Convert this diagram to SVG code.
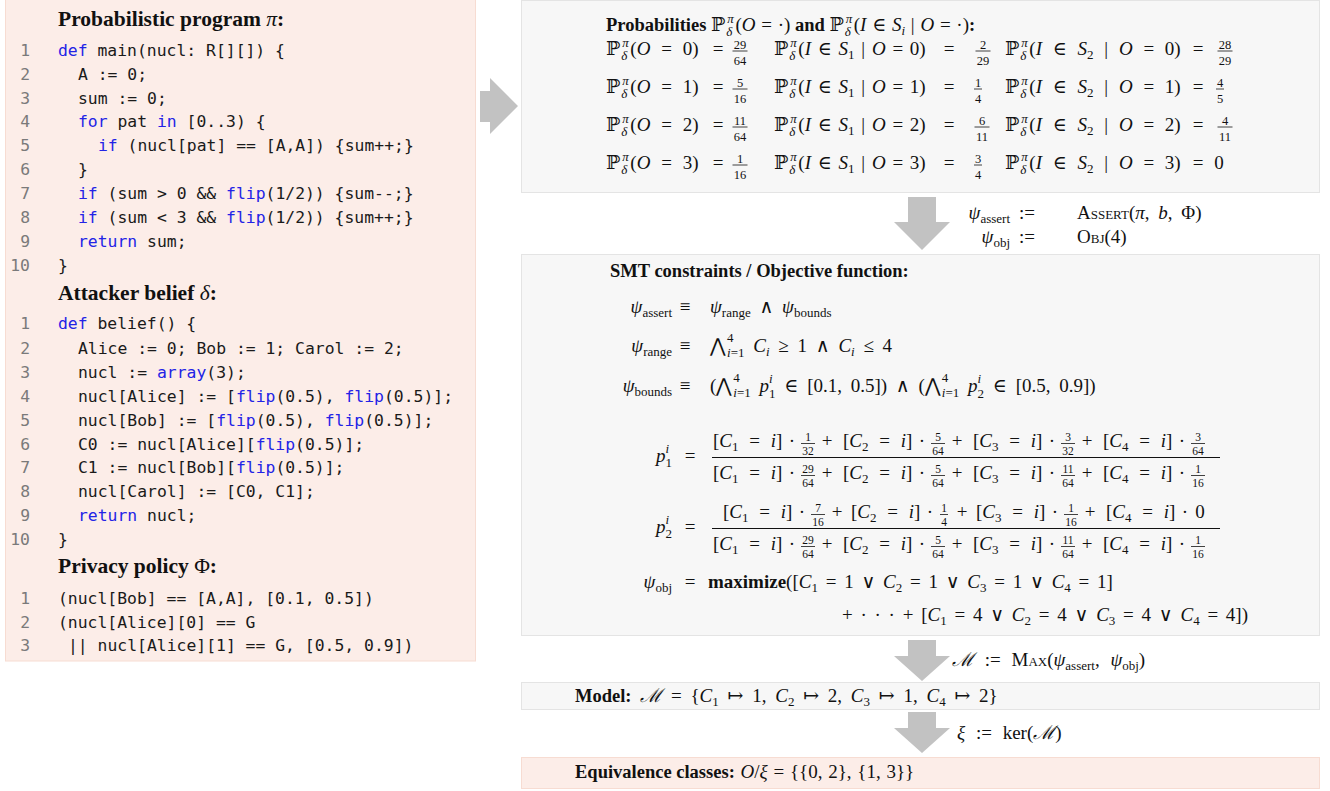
<svg xmlns="http://www.w3.org/2000/svg" width="1330" height="791" viewBox="0 0 1330 791">
<style>
.code{font-family:"DejaVu Sans Mono",monospace;font-size:16.4px;fill:#1a1a1a}
.kw{fill:#2323e6}
.ln{font-family:"DejaVu Sans Mono",monospace;font-size:16.4px;fill:#7a7a7a;text-anchor:end}
.hl{font-family:"Liberation Serif","DejaVu Serif",serif;font-size:21.5px;font-weight:bold;fill:#111}
.m{font-family:"Liberation Serif","DejaVu Serif",serif;font-size:19px;fill:#111;word-spacing:4px}
.w0{word-spacing:0}
.w1{word-spacing:1px}
.w2{word-spacing:2px}
.w3{word-spacing:3px}
.w6{word-spacing:6px}
.b{font-weight:bold}
.hb{font-weight:bold;font-size:18.5px}
.n{font-weight:normal}
.it{font-style:italic}
.sb{font-size:13px}
.sc{font-variant:small-caps}
.fr{font-family:"Liberation Serif","DejaVu Serif",serif;font-size:12.5px;fill:#111;text-anchor:middle}
.fs{font-family:"Liberation Serif","DejaVu Serif",serif;font-size:11.5px;fill:#111;text-anchor:middle}
.fl{stroke:#111;stroke-width:0.8}
.flb{stroke:#111;stroke-width:1}
.mid{text-anchor:middle}
.end{text-anchor:end}
.pink{fill:#fcede8;stroke:#f7dcd2;stroke-width:1}
.gray{fill:#f7f7f7;stroke:#e4e4e4;stroke-width:1}
.arr{fill:#c2c2c2}
</style>

<g id="connectors">
<path class="arr" d="M480,91 H490 V78 L518,106 L490,134 V122 H480 Z"/>
<path class="arr" d="M908,197 H936 V222 H950 L922,250 L894,222 H908 Z"/>
<path class="arr" d="M908,640 H936 V656 H950 L922,681 L894,656 H908 Z"/>
<path class="arr" d="M908,712 H936 V728 H950 L922,753 L894,728 H908 Z"/>
</g>

<g id="left-panel">
<rect class="pink" x="5.5" y="-1" width="470" height="662"/>
<text class="hl" x="58" y="25.5">Probabilistic program <tspan class="n it">π</tspan>:</text>
<text class="ln" x="30" y="55.5">1</text>
<text class="ln" x="30" y="79.5">2</text>
<text class="ln" x="30" y="103.5">3</text>
<text class="ln" x="30" y="127">4</text>
<text class="ln" x="30" y="151">5</text>
<text class="ln" x="30" y="175">6</text>
<text class="ln" x="30" y="198.5">7</text>
<text class="ln" x="30" y="222.5">8</text>
<text class="ln" x="30" y="246.5">9</text>
<text class="ln" x="30" y="270.5">10</text>
<text class="code" x="58" y="55.5"><tspan class="kw">def</tspan> main(nucl: R[][]) {</text>
<text class="code" x="78" y="79.5">A := 0;</text>
<text class="code" x="78" y="103.5">sum := 0;</text>
<text class="code" x="78" y="127"><tspan class="kw">for</tspan> pat <tspan class="kw">in</tspan> [0..3) {</text>
<text class="code" x="98" y="151"><tspan class="kw">if</tspan> (nucl[pat] == [A,A]) {sum++;}</text>
<text class="code" x="78" y="175">}</text>
<text class="code" x="78" y="198.5"><tspan class="kw">if</tspan> (sum &gt; 0 &amp;&amp; <tspan class="kw">flip</tspan>(1/2)) {sum--;}</text>
<text class="code" x="78" y="222.5"><tspan class="kw">if</tspan> (sum &lt; 3 &amp;&amp; <tspan class="kw">flip</tspan>(1/2)) {sum++;}</text>
<text class="code" x="78" y="246.5"><tspan class="kw">return</tspan> sum;</text>
<text class="code" x="58" y="270.5">}</text>

<text class="hl" x="58" y="300">Attacker belief <tspan class="n it">δ</tspan>:</text>
<text class="ln" x="30" y="329">1</text>
<text class="ln" x="30" y="353.5">2</text>
<text class="ln" x="30" y="377.5">3</text>
<text class="ln" x="30" y="401.5">4</text>
<text class="ln" x="30" y="425.5">5</text>
<text class="ln" x="30" y="449.5">6</text>
<text class="ln" x="30" y="473">7</text>
<text class="ln" x="30" y="497">8</text>
<text class="ln" x="30" y="520.5">9</text>
<text class="ln" x="30" y="545">10</text>
<text class="code" x="58" y="329"><tspan class="kw">def</tspan> belief() {</text>
<text class="code" x="78" y="353.5">Alice := 0; Bob := 1; Carol := 2;</text>
<text class="code" x="78" y="377.5">nucl := <tspan class="kw">array</tspan>(3);</text>
<text class="code" x="78" y="401.5">nucl[Alice] := [<tspan class="kw">flip</tspan>(0.5), <tspan class="kw">flip</tspan>(0.5)];</text>
<text class="code" x="78" y="425.5">nucl[Bob] := [<tspan class="kw">flip</tspan>(0.5), <tspan class="kw">flip</tspan>(0.5)];</text>
<text class="code" x="78" y="449.5">C0 := nucl[Alice][<tspan class="kw">flip</tspan>(0.5)];</text>
<text class="code" x="78" y="473">C1 := nucl[Bob][<tspan class="kw">flip</tspan>(0.5)];</text>
<text class="code" x="78" y="497">nucl[Carol] := [C0, C1];</text>
<text class="code" x="78" y="520.5"><tspan class="kw">return</tspan> nucl;</text>
<text class="code" x="58" y="545">}</text>

<text class="hl" x="58" y="573">Privacy policy <tspan class="n">Φ</tspan>:</text>
<text class="ln" x="30" y="604">1</text>
<text class="ln" x="30" y="627.5">2</text>
<text class="ln" x="30" y="650.5">3</text>
<text class="code" x="58" y="604">(nucl[Bob] == [A,A], [0.1, 0.5])</text>
<text class="code" x="58" y="627.5">(nucl[Alice][0] == G</text>
<text class="code" x="68" y="650.5">|| nucl[Alice][1] == G, [0.5, 0.9])</text>
</g>

<g id="probabilities">
<rect class="gray" x="521.5" y="0.5" width="798" height="192"/>
<text class="m w1" x="606" y="31"><tspan class="hb w0">Probabilities </tspan>ℙ<tspan class="sb it" dx="2" dy="-8">π</tspan><tspan class="sb it" dx="-7.5" dy="13">δ</tspan><tspan dx="3" dy="-5">(<tspan class="it">O</tspan> = ·)</tspan><tspan class="hb w0"> and </tspan>ℙ<tspan class="sb it" dx="2" dy="-8">π</tspan><tspan class="sb it" dx="-7.5" dy="13">δ</tspan><tspan dx="3" dy="-5">(<tspan class="it">I</tspan> ∈ <tspan class="it">S</tspan></tspan><tspan class="sb it" dy="4">i</tspan><tspan dy="-4"> | <tspan class="it">O</tspan> = ·)</tspan><tspan class="hb">:</tspan></text>

<text class="m w6" x="606" y="55">ℙ<tspan class="sb it" dx="2" dy="-8">π</tspan><tspan class="sb it" dx="-7.5" dy="13">δ</tspan><tspan dx="3" dy="-5">(<tspan class="it">O</tspan> = 0)</tspan></text>
<text class="m w6" x="606" y="93">ℙ<tspan class="sb it" dx="2" dy="-8">π</tspan><tspan class="sb it" dx="-7.5" dy="13">δ</tspan><tspan dx="3" dy="-5">(<tspan class="it">O</tspan> = 1)</tspan></text>
<text class="m w6" x="606" y="131">ℙ<tspan class="sb it" dx="2" dy="-8">π</tspan><tspan class="sb it" dx="-7.5" dy="13">δ</tspan><tspan dx="3" dy="-5">(<tspan class="it">O</tspan> = 2)</tspan></text>
<text class="m w6" x="606" y="169">ℙ<tspan class="sb it" dx="2" dy="-8">π</tspan><tspan class="sb it" dx="-7.5" dy="13">δ</tspan><tspan dx="3" dy="-5">(<tspan class="it">O</tspan> = 3)</tspan></text>
<text class="m mid" x="718" y="55">=</text>
<text class="m mid" x="718" y="93">=</text>
<text class="m mid" x="718" y="131">=</text>
<text class="m mid" x="718" y="169">=</text>

<text class="m w2" x="774" y="55">ℙ<tspan class="sb it" dx="2" dy="-8">π</tspan><tspan class="sb it" dx="-7.5" dy="13">δ</tspan><tspan dx="3" dy="-5">(<tspan class="it">I</tspan> ∈ <tspan class="it">S</tspan></tspan><tspan class="sb" dy="4">1</tspan><tspan dy="-4"> | <tspan class="it">O</tspan> = 0)</tspan></text>
<text class="m w2" x="774" y="93">ℙ<tspan class="sb it" dx="2" dy="-8">π</tspan><tspan class="sb it" dx="-7.5" dy="13">δ</tspan><tspan dx="3" dy="-5">(<tspan class="it">I</tspan> ∈ <tspan class="it">S</tspan></tspan><tspan class="sb" dy="4">1</tspan><tspan dy="-4"> | <tspan class="it">O</tspan> = 1)</tspan></text>
<text class="m w2" x="774" y="131">ℙ<tspan class="sb it" dx="2" dy="-8">π</tspan><tspan class="sb it" dx="-7.5" dy="13">δ</tspan><tspan dx="3" dy="-5">(<tspan class="it">I</tspan> ∈ <tspan class="it">S</tspan></tspan><tspan class="sb" dy="4">1</tspan><tspan dy="-4"> | <tspan class="it">O</tspan> = 2)</tspan></text>
<text class="m w2" x="774" y="169">ℙ<tspan class="sb it" dx="2" dy="-8">π</tspan><tspan class="sb it" dx="-7.5" dy="13">δ</tspan><tspan dx="3" dy="-5">(<tspan class="it">I</tspan> ∈ <tspan class="it">S</tspan></tspan><tspan class="sb" dy="4">1</tspan><tspan dy="-4"> | <tspan class="it">O</tspan> = 3)</tspan></text>
<text class="m mid" x="949" y="55">=</text>
<text class="m mid" x="949" y="93">=</text>
<text class="m mid" x="949" y="131">=</text>
<text class="m mid" x="949" y="169">=</text>

<text class="m w6" x="1005" y="55">ℙ<tspan class="sb it" dx="2" dy="-8">π</tspan><tspan class="sb it" dx="-7.5" dy="13">δ</tspan><tspan dx="3" dy="-5">(<tspan class="it">I</tspan> ∈ <tspan class="it">S</tspan></tspan><tspan class="sb" dy="4">2</tspan><tspan dy="-4"> | <tspan class="it">O</tspan> = 0)</tspan></text>
<text class="m w6" x="1005" y="93">ℙ<tspan class="sb it" dx="2" dy="-8">π</tspan><tspan class="sb it" dx="-7.5" dy="13">δ</tspan><tspan dx="3" dy="-5">(<tspan class="it">I</tspan> ∈ <tspan class="it">S</tspan></tspan><tspan class="sb" dy="4">2</tspan><tspan dy="-4"> | <tspan class="it">O</tspan> = 1)</tspan></text>
<text class="m w6" x="1005" y="131">ℙ<tspan class="sb it" dx="2" dy="-8">π</tspan><tspan class="sb it" dx="-7.5" dy="13">δ</tspan><tspan dx="3" dy="-5">(<tspan class="it">I</tspan> ∈ <tspan class="it">S</tspan></tspan><tspan class="sb" dy="4">2</tspan><tspan dy="-4"> | <tspan class="it">O</tspan> = 2)</tspan></text>
<text class="m w6" x="1005" y="169">ℙ<tspan class="sb it" dx="2" dy="-8">π</tspan><tspan class="sb it" dx="-7.5" dy="13">δ</tspan><tspan dx="3" dy="-5">(<tspan class="it">I</tspan> ∈ <tspan class="it">S</tspan></tspan><tspan class="sb" dy="4">2</tspan><tspan dy="-4"> | <tspan class="it">O</tspan> = 3)</tspan></text>
<text class="m mid" x="1198" y="55">=</text>
<text class="m mid" x="1198" y="93">=</text>
<text class="m mid" x="1198" y="131">=</text>
<text class="m mid" x="1198" y="169">=</text>
<text class="m mid" x="1219" y="169">0</text>

<g>
<text class="fr" x="740" y="48.5">29</text><line class="fl" x1="732.5" y1="51" x2="747.5" y2="51"/><text class="fr" x="740" y="65">64</text>
<text class="fr" x="983" y="48.5">2</text><line class="fl" x1="975.5" y1="51" x2="990.5" y2="51"/><text class="fr" x="983" y="65">29</text>
<text class="fr" x="1225" y="48.5">28</text><line class="fl" x1="1217.5" y1="51" x2="1232.5" y2="51"/><text class="fr" x="1225" y="65">29</text>

<text class="fr" x="740" y="86.5">5</text><line class="fl" x1="732.5" y1="89" x2="747.5" y2="89"/><text class="fr" x="740" y="103">16</text>
<text class="fr" x="978" y="86.5">1</text><line class="fl" x1="974" y1="89" x2="982" y2="89"/><text class="fr" x="978" y="103">4</text>
<text class="fr" x="1220" y="86.5">4</text><line class="fl" x1="1216" y1="89" x2="1224" y2="89"/><text class="fr" x="1220" y="103">5</text>

<text class="fr" x="740" y="124.5">11</text><line class="fl" x1="732.5" y1="127" x2="747.5" y2="127"/><text class="fr" x="740" y="141">64</text>
<text class="fr" x="982" y="124.5">6</text><line class="fl" x1="974.5" y1="127" x2="989.5" y2="127"/><text class="fr" x="982" y="141">11</text>
<text class="fr" x="1225" y="124.5">4</text><line class="fl" x1="1217.5" y1="127" x2="1232.5" y2="127"/><text class="fr" x="1225" y="141">11</text>

<text class="fr" x="740" y="162.5">1</text><line class="fl" x1="732.5" y1="165" x2="747.5" y2="165"/><text class="fr" x="740" y="179">16</text>
<text class="fr" x="978" y="162.5">3</text><line class="fl" x1="974" y1="165" x2="982" y2="165"/><text class="fr" x="978" y="179">4</text>
</g>
</g>

<g id="label-assert">
<text class="m end" x="1010" y="219"><tspan class="it">ψ</tspan><tspan class="sb" dy="4">assert</tspan></text>
<text class="m mid" x="1027" y="219">:=</text>
<text class="m" x="1077" y="219"><tspan class="sc">Assert</tspan>(<tspan class="it">π</tspan>, <tspan class="it">b</tspan>, Φ)</text>
<text class="m end" x="1010" y="243"><tspan class="it">ψ</tspan><tspan class="sb" dy="4">obj</tspan></text>
<text class="m mid" x="1027" y="243">:=</text>
<text class="m" x="1077" y="243"><tspan class="sc">Obj</tspan>(4)</text>
</g>

<g id="smt">
<rect class="gray" x="521.5" y="254.5" width="798" height="381"/>
<text class="m hb w0" x="610" y="277">SMT constraints / Objective function:</text>

<text class="m end" x="672" y="313"><tspan class="it">ψ</tspan><tspan class="sb" dy="4">assert</tspan></text>
<text class="m mid" x="685" y="313">≡</text>
<text class="m" x="710" y="313"><tspan class="it">ψ</tspan><tspan class="sb" dy="4">range</tspan><tspan dy="-4"> ∧ <tspan class="it">ψ</tspan></tspan><tspan class="sb" dy="4">bounds</tspan></text>

<text class="m end" x="672" y="352"><tspan class="it">ψ</tspan><tspan class="sb" dy="4">range</tspan></text>
<text class="m mid" x="685" y="352">≡</text>
<text class="m" x="710" y="352">⋀<tspan class="sb" dx="1" dy="-10">4</tspan><tspan class="sb" dx="-6.5" dy="15"><tspan class="it">i</tspan>=1</tspan><tspan dy="-5"> <tspan class="it">C</tspan></tspan><tspan class="sb it" dy="4">i</tspan><tspan dy="-4"> ≥ 1 ∧ <tspan class="it">C</tspan></tspan><tspan class="sb it" dy="4">i</tspan><tspan dy="-4"> ≤ 4</tspan></text>

<text class="m end" x="672" y="392"><tspan class="it">ψ</tspan><tspan class="sb" dy="4">bounds</tspan></text>
<text class="m mid" x="685" y="392">≡</text>
<text class="m" x="710" y="392">(⋀<tspan class="sb" dx="1" dy="-10">4</tspan><tspan class="sb" dx="-6.5" dy="15"><tspan class="it">i</tspan>=1</tspan><tspan dy="-5" class="it"> p</tspan><tspan class="sb it" dy="-9">i</tspan><tspan class="sb" dx="-3.6" dy="14.5">1</tspan><tspan dy="-5.5"> ∈ [0.1, 0.5]) ∧ (⋀</tspan><tspan class="sb" dx="1" dy="-10">4</tspan><tspan class="sb" dx="-6.5" dy="15"><tspan class="it">i</tspan>=1</tspan><tspan dy="-5" class="it"> p</tspan><tspan class="sb it" dy="-9">i</tspan><tspan class="sb" dx="-3.6" dy="14.5">2</tspan><tspan dy="-5.5"> ∈ [0.5, 0.9])</tspan></text>

<text class="m end" x="672" y="462"><tspan class="it">p</tspan><tspan class="sb it" dy="-9">i</tspan><tspan class="sb" dx="-3.6" dy="14">1</tspan></text>
<text class="m mid" x="690" y="462">=</text>
<line class="flb" x1="712" y1="457.5" x2="1220" y2="457.5"/>
<text class="m w6" x="713" y="447">[<tspan class="it">C</tspan><tspan class="sb" dy="4">1</tspan><tspan dy="-4"> = <tspan class="it">i</tspan>]</tspan></text>
<text class="m mid" x="792" y="447">·</text>
<text class="fs" x="808" y="441">1</text><line class="fl" x1="801" y1="443.5" x2="815" y2="443.5"/><text class="fs" x="808" y="455">32</text>
<text class="m mid" x="827" y="447">+</text>
<text class="m w6" x="843" y="447">[<tspan class="it">C</tspan><tspan class="sb" dy="4">2</tspan><tspan dy="-4"> = <tspan class="it">i</tspan>]</tspan></text>
<text class="m mid" x="922" y="447">·</text>
<text class="fs" x="938" y="441">5</text><line class="fl" x1="931" y1="443.5" x2="945" y2="443.5"/><text class="fs" x="938" y="455">64</text>
<text class="m mid" x="957" y="447">+</text>
<text class="m w6" x="973" y="447">[<tspan class="it">C</tspan><tspan class="sb" dy="4">3</tspan><tspan dy="-4"> = <tspan class="it">i</tspan>]</tspan></text>
<text class="m mid" x="1052" y="447">·</text>
<text class="fs" x="1068" y="441">3</text><line class="fl" x1="1061" y1="443.5" x2="1075" y2="443.5"/><text class="fs" x="1068" y="455">32</text>
<text class="m mid" x="1087" y="447">+</text>
<text class="m w6" x="1103" y="447">[<tspan class="it">C</tspan><tspan class="sb" dy="4">4</tspan><tspan dy="-4"> = <tspan class="it">i</tspan>]</tspan></text>
<text class="m mid" x="1182" y="447">·</text>
<text class="fs" x="1198" y="441">3</text><line class="fl" x1="1191" y1="443.5" x2="1205" y2="443.5"/><text class="fs" x="1198" y="455">64</text>

<text class="m w6" x="713" y="479">[<tspan class="it">C</tspan><tspan class="sb" dy="4">1</tspan><tspan dy="-4"> = <tspan class="it">i</tspan>]</tspan></text>
<text class="m mid" x="792" y="479">·</text>
<text class="fs" x="808" y="473">29</text><line class="fl" x1="801" y1="475.5" x2="815" y2="475.5"/><text class="fs" x="808" y="487">64</text>
<text class="m mid" x="827" y="479">+</text>
<text class="m w6" x="843" y="479">[<tspan class="it">C</tspan><tspan class="sb" dy="4">2</tspan><tspan dy="-4"> = <tspan class="it">i</tspan>]</tspan></text>
<text class="m mid" x="922" y="479">·</text>
<text class="fs" x="938" y="473">5</text><line class="fl" x1="931" y1="475.5" x2="945" y2="475.5"/><text class="fs" x="938" y="487">64</text>
<text class="m mid" x="957" y="479">+</text>
<text class="m w6" x="973" y="479">[<tspan class="it">C</tspan><tspan class="sb" dy="4">3</tspan><tspan dy="-4"> = <tspan class="it">i</tspan>]</tspan></text>
<text class="m mid" x="1052" y="479">·</text>
<text class="fs" x="1068" y="473">11</text><line class="fl" x1="1061" y1="475.5" x2="1075" y2="475.5"/><text class="fs" x="1068" y="487">64</text>
<text class="m mid" x="1087" y="479">+</text>
<text class="m w6" x="1103" y="479">[<tspan class="it">C</tspan><tspan class="sb" dy="4">4</tspan><tspan dy="-4"> = <tspan class="it">i</tspan>]</tspan></text>
<text class="m mid" x="1182" y="479">·</text>
<text class="fs" x="1198" y="473">1</text><line class="fl" x1="1191" y1="475.5" x2="1205" y2="475.5"/><text class="fs" x="1198" y="487">16</text>

<text class="m end" x="672" y="533"><tspan class="it">p</tspan><tspan class="sb it" dy="-9">i</tspan><tspan class="sb" dx="-3.6" dy="14">2</tspan></text>
<text class="m mid" x="690" y="533">=</text>
<line class="flb" x1="712" y1="528.5" x2="1220" y2="528.5"/>
<text class="m w6" x="723" y="518">[<tspan class="it">C</tspan><tspan class="sb" dy="4">1</tspan><tspan dy="-4"> = <tspan class="it">i</tspan>]</tspan></text>
<text class="m mid" x="802" y="518">·</text>
<text class="fs" x="818" y="512">7</text><line class="fl" x1="811" y1="514.5" x2="825" y2="514.5"/><text class="fs" x="818" y="526">16</text>
<text class="m mid" x="837" y="518">+</text>
<text class="m w6" x="851" y="518">[<tspan class="it">C</tspan><tspan class="sb" dy="4">2</tspan><tspan dy="-4"> = <tspan class="it">i</tspan>]</tspan></text>
<text class="m mid" x="930" y="518">·</text>
<text class="fs" x="944" y="512">1</text><line class="fl" x1="940" y1="514.5" x2="948" y2="514.5"/><text class="fs" x="944" y="526">4</text>
<text class="m mid" x="962" y="518">+</text>
<text class="m w6" x="976" y="518">[<tspan class="it">C</tspan><tspan class="sb" dy="4">3</tspan><tspan dy="-4"> = <tspan class="it">i</tspan>]</tspan></text>
<text class="m mid" x="1055" y="518">·</text>
<text class="fs" x="1071" y="512">1</text><line class="fl" x1="1064" y1="514.5" x2="1078" y2="514.5"/><text class="fs" x="1071" y="526">16</text>
<text class="m mid" x="1090" y="518">+</text>
<text class="m w6" x="1106" y="518">[<tspan class="it">C</tspan><tspan class="sb" dy="4">4</tspan><tspan dy="-4"> = <tspan class="it">i</tspan>]</tspan></text>
<text class="m mid" x="1185" y="518">·</text>
<text class="m mid" x="1200" y="518">0</text>

<text class="m w6" x="713" y="550">[<tspan class="it">C</tspan><tspan class="sb" dy="4">1</tspan><tspan dy="-4"> = <tspan class="it">i</tspan>]</tspan></text>
<text class="m mid" x="792" y="550">·</text>
<text class="fs" x="808" y="544">29</text><line class="fl" x1="801" y1="546.5" x2="815" y2="546.5"/><text class="fs" x="808" y="558">64</text>
<text class="m mid" x="827" y="550">+</text>
<text class="m w6" x="843" y="550">[<tspan class="it">C</tspan><tspan class="sb" dy="4">2</tspan><tspan dy="-4"> = <tspan class="it">i</tspan>]</tspan></text>
<text class="m mid" x="922" y="550">·</text>
<text class="fs" x="938" y="544">5</text><line class="fl" x1="931" y1="546.5" x2="945" y2="546.5"/><text class="fs" x="938" y="558">64</text>
<text class="m mid" x="957" y="550">+</text>
<text class="m w6" x="973" y="550">[<tspan class="it">C</tspan><tspan class="sb" dy="4">3</tspan><tspan dy="-4"> = <tspan class="it">i</tspan>]</tspan></text>
<text class="m mid" x="1052" y="550">·</text>
<text class="fs" x="1068" y="544">11</text><line class="fl" x1="1061" y1="546.5" x2="1075" y2="546.5"/><text class="fs" x="1068" y="558">64</text>
<text class="m mid" x="1087" y="550">+</text>
<text class="m w6" x="1103" y="550">[<tspan class="it">C</tspan><tspan class="sb" dy="4">4</tspan><tspan dy="-4"> = <tspan class="it">i</tspan>]</tspan></text>
<text class="m mid" x="1182" y="550">·</text>
<text class="fs" x="1198" y="544">1</text><line class="fl" x1="1191" y1="546.5" x2="1205" y2="546.5"/><text class="fs" x="1198" y="558">16</text>

<text class="m end" x="672" y="588"><tspan class="it">ψ</tspan><tspan class="sb" dy="4">obj</tspan></text>
<text class="m mid" x="690" y="588">=</text>
<text class="m w3" x="708" y="588"><tspan class="b">maximize</tspan>([<tspan class="it">C</tspan><tspan class="sb" dy="4">1</tspan><tspan dy="-4"> = 1 ∨ <tspan class="it">C</tspan></tspan><tspan class="sb" dy="4">2</tspan><tspan dy="-4"> = 1 ∨ <tspan class="it">C</tspan></tspan><tspan class="sb" dy="4">3</tspan><tspan dy="-4"> = 1 ∨ <tspan class="it">C</tspan></tspan><tspan class="sb" dy="4">4</tspan><tspan dy="-4"> = 1]</tspan></text>
<text class="m w3" x="842" y="621">+ · · · + [<tspan class="it">C</tspan><tspan class="sb" dy="4">1</tspan><tspan dy="-4"> = 4 ∨ <tspan class="it">C</tspan></tspan><tspan class="sb" dy="4">2</tspan><tspan dy="-4"> = 4 ∨ <tspan class="it">C</tspan></tspan><tspan class="sb" dy="4">3</tspan><tspan dy="-4"> = 4 ∨ <tspan class="it">C</tspan></tspan><tspan class="sb" dy="4">4</tspan><tspan dy="-4"> = 4])</tspan></text>
</g>

<g id="label-max">
<text class="m w6" x="952" y="666"><tspan class="it">ℳ</tspan> := <tspan class="sc">Max</tspan>(<tspan class="it">ψ</tspan><tspan class="sb" dy="4">assert</tspan><tspan dy="-4">, <tspan class="it">ψ</tspan></tspan><tspan class="sb" dy="4">obj</tspan><tspan dy="-4">)</tspan></text>
</g>

<g id="model">
<rect class="gray" x="521.5" y="682.5" width="798" height="27"/>
<text class="m" x="575" y="702"><tspan class="hb w0">Model:</tspan> <tspan class="it">ℳ</tspan> = {<tspan class="it">C</tspan><tspan class="sb" dy="4">1</tspan><tspan dy="-4"> ↦ 1, <tspan class="it">C</tspan></tspan><tspan class="sb" dy="4">2</tspan><tspan dy="-4"> ↦ 2, <tspan class="it">C</tspan></tspan><tspan class="sb" dy="4">3</tspan><tspan dy="-4"> ↦ 1, <tspan class="it">C</tspan></tspan><tspan class="sb" dy="4">4</tspan><tspan dy="-4"> ↦ 2}</tspan></text>
</g>

<g id="label-ker">
<text class="m w6" x="957" y="739"><tspan class="it">ξ</tspan> := ker(<tspan class="it">ℳ</tspan>)</text>
</g>

<g id="equivalence">
<rect class="pink" x="521.5" y="757.5" width="798" height="31"/>
<text class="m w1" x="575" y="778"><tspan class="hb w0">Equivalence classes:</tspan> <tspan class="it">O</tspan>/<tspan class="it">ξ</tspan> = {{0, 2}, {1, 3}}</text>
</g>
</svg>
